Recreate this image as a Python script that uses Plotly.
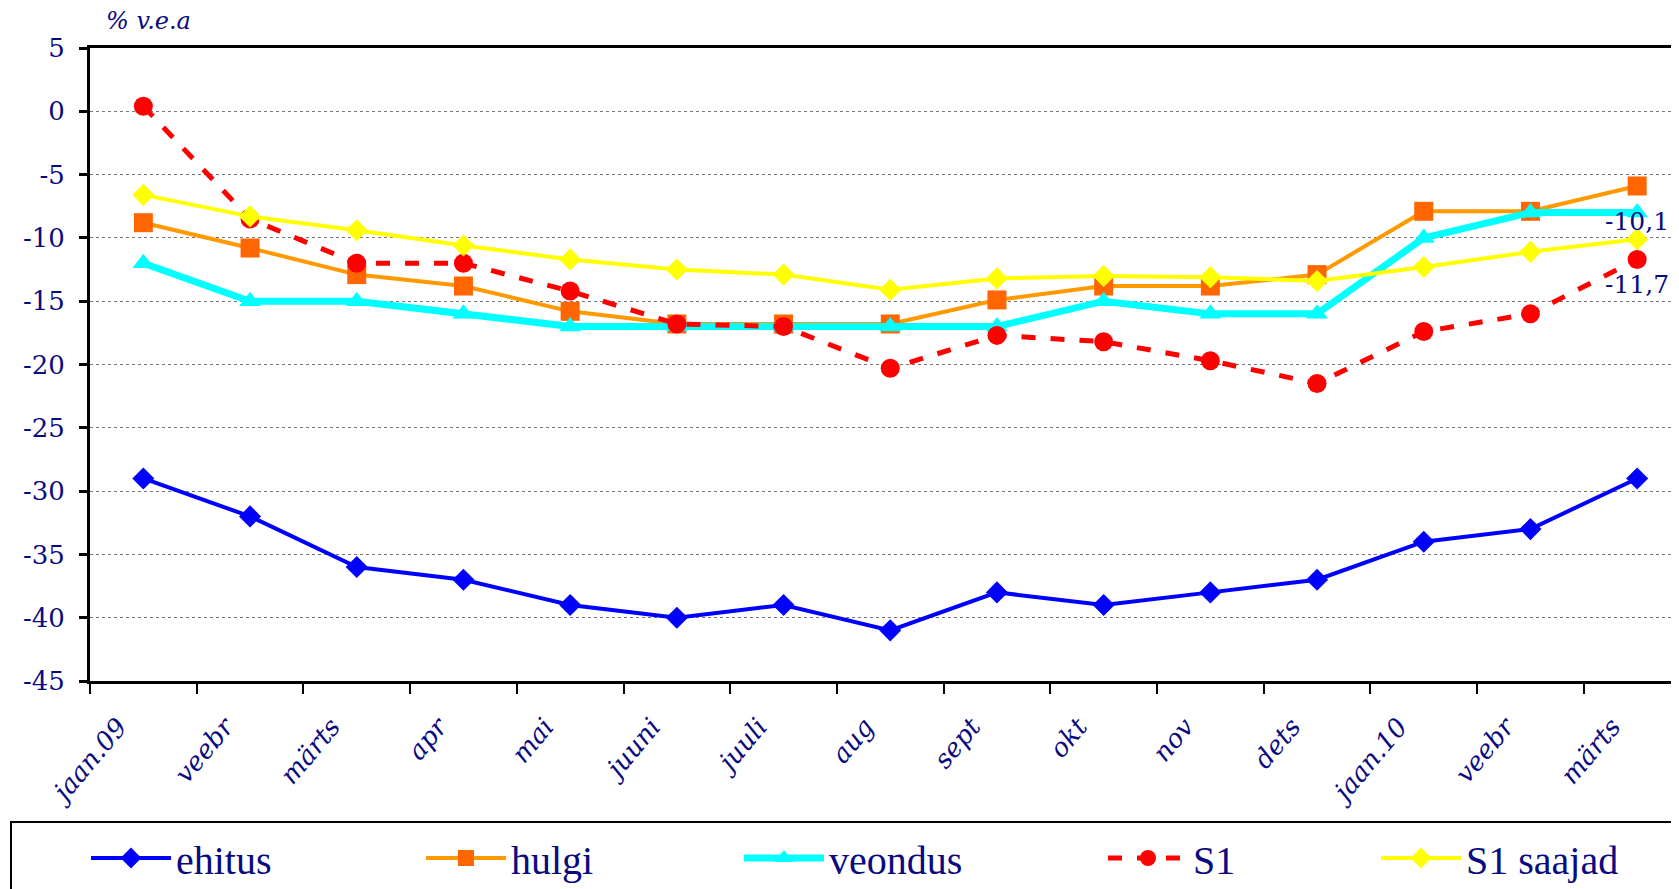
import plotly.graph_objects as go

months = ["jaan.09", "veebr", "märts", "apr", "mai", "juuni", "juuli", "aug",
          "sept", "okt", "nov", "dets", "jaan.10", "veebr", "märts"]

ehitus = [-29, -32, -36, -37, -39, -40, -39, -41, -38, -39, -38, -37, -34, -33, -29]
hulgi = [-8.8, -10.8, -12.9, -13.8, -15.8, -16.8, -16.8, -16.8, -14.9, -13.8, -13.8, -12.9, -7.9, -7.9, -5.9]
veondus = [-12, -15, -15, -16, -17, -17, -17, -17, -17, -15, -16, -16, -10, -8, -8]
s1 = [0.4, -8.5, -12.0, -12.0, -14.2, -16.8, -17.0, -20.3, -17.7, -18.2, -19.7, -21.5, -17.4, -16.0, -11.7]
s1_saajad = [-6.6, -8.3, -9.4, -10.6, -11.7, -12.5, -12.9, -14.1, -13.2, -13.0, -13.1, -13.4, -12.3, -11.1, -10.1]

y_ticks = [5, 0, -5, -10, -15, -20, -25, -30, -35, -40, -45]

NAVY = "#0a0a80"
SERIF = "DejaVu Serif"
OFF = 8  # page body margin

xpos = list(range(len(months)))
boundaries = [i - 0.5 for i in range(len(months) + 1)]

fig = go.Figure()

fig.add_trace(go.Scatter(x=xpos, y=ehitus, name="ehitus", mode="lines+markers", legend="legend",
                         line=dict(color="#0000FF", width=4),
                         marker=dict(symbol="diamond", size=17, color="#0000FF")))
fig.add_trace(go.Scatter(x=xpos, y=hulgi, name="hulgi", mode="lines+markers", legend="legend2",
                         line=dict(color="#FF9900", width=4),
                         marker=dict(symbol="square", size=19, color="#FF6600")))
fig.add_trace(go.Scatter(x=xpos, y=veondus, name="veondus", mode="lines+markers", legend="legend3",
                         line=dict(color="#00FFFF", width=7),
                         marker=dict(symbol="triangle-up", size=19, color="#00FFFF")))
fig.add_trace(go.Scatter(x=xpos, y=s1, name="S1", mode="lines+markers", legend="legend4",
                         line=dict(color="#FF0000", width=5, dash="14px,15px"),
                         marker=dict(symbol="circle", size=19, color="#FF0000")))
fig.add_trace(go.Scatter(x=xpos, y=s1_saajad, name="S1 saajad", mode="lines+markers", legend="legend5",
                         line=dict(color="#FFFF00", width=4),
                         marker=dict(symbol="diamond", size=17, color="#FFFF00")))

def fmt(v):
    return f"{v:.1f}".replace(".", ",")

fig.add_annotation(x=xpos[-1], y=s1_saajad[-1], text=fmt(s1_saajad[-1]), showarrow=False,
                   yshift=18, font=dict(family=SERIF, size=25, color=NAVY))
fig.add_annotation(x=xpos[-1], y=s1[-1], text=fmt(s1[-1]), showarrow=False,
                   yshift=-25, font=dict(family=SERIF, size=25, color=NAVY))

fig.add_annotation(xref="paper", yref="paper", x=0.0, y=1.0, xanchor="left", yanchor="bottom",
                   xshift=14, yshift=11, text="<i>% v.e.a</i>", showarrow=False,
                   font=dict(family=SERIF, size=24, color=NAVY))

plot_w = 1679 - (90 - OFF)
# legend frame
fig.add_shape(type="rect", xref="paper", yref="paper",
              x0=(11 - 90) / plot_w, x1=1.2, y0=-0.6, y1=(681 - 822) / 633,
              line=dict(color="black", width=2), fillcolor="rgba(0,0,0,0)")

leg_font = dict(family="Liberation Serif", size=40, color=NAVY)
leg_x = [86, 421, 739, 1103, 1376]
legends = {}
for i, lx in enumerate(leg_x):
    key = "legend" if i == 0 else f"legend{i + 1}"
    legends[key] = dict(orientation="h", xref="container", yref="container",
                        x=(lx - OFF) / 1679, y=1 - (858 - OFF) / 889, xanchor="left", yanchor="middle",
                        font=leg_font, itemwidth=80, bgcolor="rgba(0,0,0,0)")

fig.update_layout(
    width=1679, height=889,
    margin=dict(l=90 - OFF, r=0, t=48 - OFF, b=889 - 633 - (48 - OFF)),
    paper_bgcolor="white", plot_bgcolor="white",
    showlegend=True,
    xaxis=dict(range=[-0.5, -0.5 + plot_w / 106.7], showline=True, linecolor="black",
               linewidth=3, mirror=True, ticks="", tickvals=xpos, ticktext=months,
               tickangle=-50, ticklabelstandoff=17, ticklabelshift=-25,
               tickfont=dict(family=SERIF, size=26, color=NAVY, style="italic"),
               minor=dict(tickvals=boundaries, ticks="outside", ticklen=10, tickwidth=2,
                          tickcolor="black", showgrid=False),
               showgrid=False, zeroline=False, automargin=False),
    yaxis=dict(range=[-45, 5], tickvals=y_ticks, ticktext=[str(v) for v in y_ticks],
               showline=True, linecolor="black",
               linewidth=3, ticks="outside", ticklen=8, tickwidth=3, tickcolor="black",
               showgrid=True, gridcolor="#777777", griddash="dot", gridwidth=1,
               zeroline=False, ticklabelstandoff=9, automargin=False,
               tickfont=dict(family=SERIF, size=26, color=NAVY)),
    **legends,
)

fig.write_html("out.html")
